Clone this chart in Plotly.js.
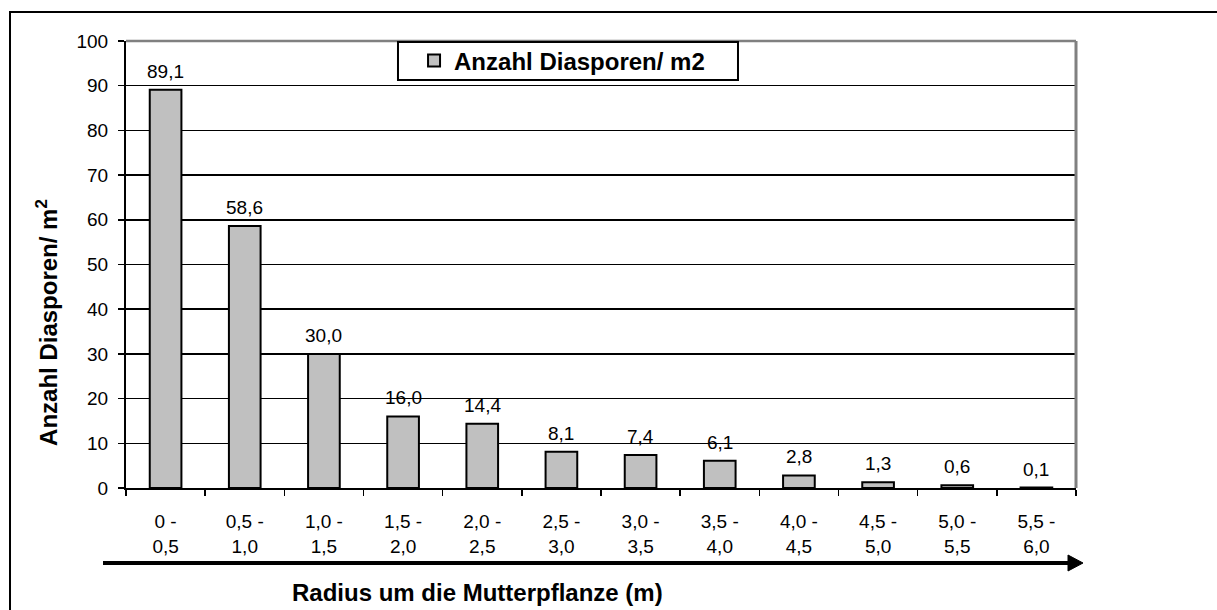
<!DOCTYPE html>
<html>
<head>
<meta charset="utf-8">
<script src="https://cdn.plot.ly/plotly-3.0.1.min.js"></script>
<style>html,body{margin:0;padding:0;background:#fff;}#chart{width:1217px;height:610px;}</style>
</head>
<body>
<div id="chart"></div>
<script>
var categories = ["0 - 0,5","0,5 - 1,0","1,0 - 1,5","1,5 - 2,0","2,0 - 2,5","2,5 - 3,0","3,0 - 3,5","3,5 - 4,0","4,0 - 4,5","4,5 - 5,0","5,0 - 5,5","5,5 - 6,0"];
var tickLabels = ["0 -<br>0,5","0,5 -<br>1,0","1,0 -<br>1,5","1,5 -<br>2,0","2,0 -<br>2,5","2,5 -<br>3,0","3,0 -<br>3,5","3,5 -<br>4,0","4,0 -<br>4,5","4,5 -<br>5,0","5,0 -<br>5,5","5,5 -<br>6,0"];
var values = [89.1, 58.6, 30.0, 16.0, 14.4, 8.1, 7.4, 6.1, 2.8, 1.3, 0.6, 0.1];
var seriesName = "Anzahl Diasporen/ m2";
var yTitle = "Anzahl Diasporen/ m<sup>2</sup>";
var xTitle = "Radius um die Mutterpflanze (m)";

var FONT = "Liberation Sans, Arial, sans-serif";

var trace = {
  type: "bar",
  x: categories,
  y: values,
  name: seriesName,
  width: 0.4,
  marker: {color: "#C0C0C0", line: {color: "#000000", width: 2}},
  showlegend: true,
  hoverinfo: "x+y"
};

var annotations = values.map(function(v, i){
  return {
    x: categories[i], y: v, xref: "x", yref: "y",
    text: v.toFixed(1).replace(".", ","),
    showarrow: false, yanchor: "bottom", yshift: 6,
    font: {family: FONT, size: 19, color: "#000"}
  };
});
annotations.push({
  xref: "paper", yref: "paper", x: -0.0832, y: 0.3714,
  text: yTitle, textangle: -90, showarrow: false,
  xanchor: "center", yanchor: "middle",
  font: {family: FONT, size: 24, color: "#000", weight: "bold"}
});
annotations.push({
  xref: "paper", yref: "paper", x: 0.3705, y: -0.2327,
  text: xTitle, showarrow: false,
  xanchor: "center", yanchor: "middle",
  font: {family: FONT, size: 24, color: "#000", weight: "bold"}
});

var layout = {
  width: 1217, height: 610,
  margin: {l: 126, r: 141, t: 41, b: 122, pad: 0},
  paper_bgcolor: "#ffffff", plot_bgcolor: "#ffffff",
  separators: ", ",
  font: {family: FONT, size: 19, color: "#000"},
  bargap: 0.6,
  xaxis: {
    type: "category",
    tickvals: categories, ticktext: tickLabels,
    showline: true, linecolor: "#000", linewidth: 2,
    ticks: "outside", tickson: "boundaries", ticklen: 6, tickcolor: "#000", tickwidth: 1.5,
    showgrid: false, zeroline: false,
    tickfont: {family: FONT, size: 19, color: "#000"},
    ticklabelstandoff: 15
  },
  yaxis: {
    range: [0, 100], dtick: 10, tick0: 0,
    showline: true, linecolor: "#000", linewidth: 2,
    ticks: "outside", ticklen: 6, tickcolor: "#000", tickwidth: 1.5,
    showgrid: true, gridcolor: "#000", gridwidth: 1.5, zeroline: false,
    tickfont: {family: FONT, size: 19, color: "#000"},
    ticklabelstandoff: 6
  },
  legend: {
    x: 0.3032, y: 0.9553, xanchor: "left", yanchor: "middle",
    bgcolor: "rgba(255,255,255,0)", borderwidth: 0,
    font: {family: FONT, size: 24, color: "#000", weight: "bold"}
  },
  showlegend: true,
  annotations: annotations,
  shapes: [
    {type: "line", xref: "paper", yref: "paper", x0: 0, x1: 1, y0: 1, y1: 1, line: {color: "#808080", width: 2.5}, layer: "above"},
    {type: "line", xref: "paper", yref: "paper", x0: 1, x1: 1, y0: 0, y1: 1, line: {color: "#808080", width: 3}, layer: "above"},
    {type: "rect", xref: "paper", yref: "paper", x0: 0.2863, x1: 0.6442, y0: 0.9128, y1: 0.9978, line: {color: "#000", width: 2}, fillcolor: "#ffffff", layer: "above"},
    {type: "rect", xref: "paper", yref: "paper", x0: -0.1221, x1: 1.17, y0: -0.3, y1: 1.0649, line: {color: "#000", width: 2}, fillcolor: "rgba(0,0,0,0)", layer: "above"},
    {type: "line", xref: "paper", yref: "paper", x0: -0.0242, x1: 0.9937, y0: -0.1678, y1: -0.1678, line: {color: "#000", width: 4}, layer: "above"},
    {type: "path", xref: "paper", yref: "paper", path: "M 0.99158 -0.14989 L 1.00737 -0.16779 L 0.99158 -0.18568 Z", fillcolor: "#000", line: {color: "#000", width: 1}, layer: "above"}
  ]
};

Plotly.newPlot("chart", [trace], layout, {displayModeBar: false, staticPlot: true});
</script>
</body>
</html>
